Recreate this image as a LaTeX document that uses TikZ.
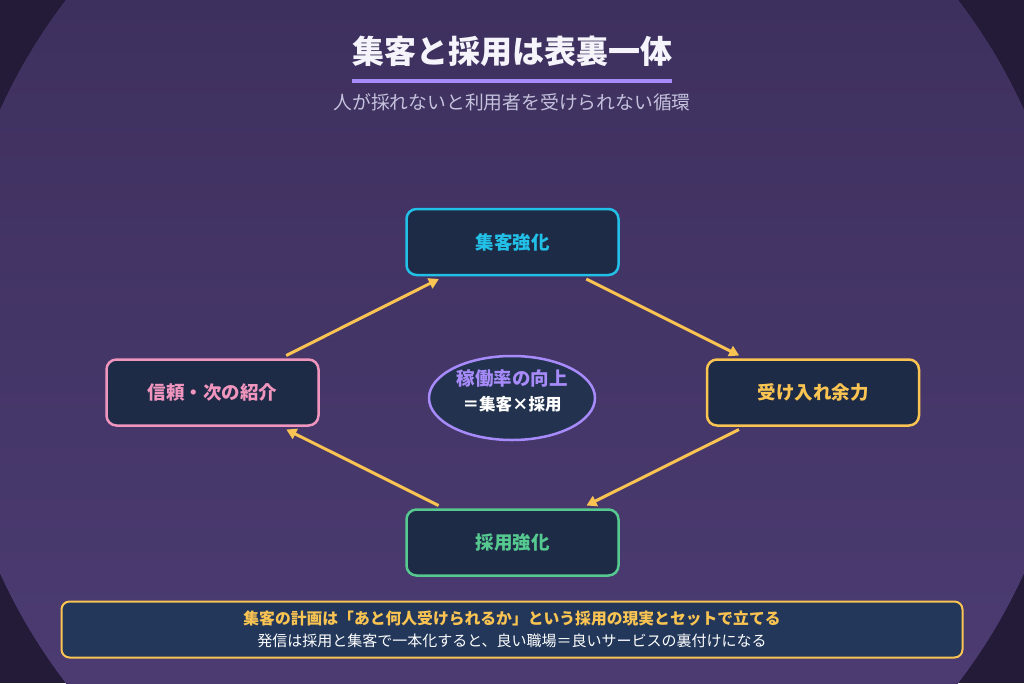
\documentclass[tikz,border=0pt]{standalone}
\usepackage{fontspec}
\setmainfont{Noto Sans CJK JP}
\usetikzlibrary{arrows.meta,shapes.geometric}
\definecolor{bgdark}{HTML}{231B38}
\definecolor{bgtop}{HTML}{3E305E}
\definecolor{bgbot}{HTML}{4B3B71}
\definecolor{nodefill}{HTML}{1E2B47}
\definecolor{ccyan}{HTML}{22BFE6}
\definecolor{cyel}{HTML}{FAC452}
\definecolor{cpink}{HTML}{F095BE}
\definecolor{cgreen}{HTML}{55C98F}
\definecolor{clav}{HTML}{A78BFA}
\definecolor{ellfill}{HTML}{22324F}
\definecolor{panelfill}{HTML}{22375A}
\definecolor{subgray}{HTML}{C4C2DC}
\definecolor{titlewhite}{HTML}{F4F4FA}
\tikzset{
  stepbox/.style={draw=#1, text=#1, line width=2.5pt, rounded corners=10pt, fill=nodefill,
    minimum width=212pt, minimum height=66pt, outer sep=4pt, inner sep=0pt,
    font=\bfseries\fontsize{18.5}{20}\selectfont},
  arr/.style={draw=cyel, line width=3pt, -{Triangle[length=10pt,width=11pt]}},
  panel/.style={draw=cyel, line width=2pt, rounded corners=8pt, fill=panelfill,
    minimum width=901pt, minimum height=56pt, inner sep=0pt}
}
\begin{document}
\begin{tikzpicture}[x=1pt,y=-1pt]
\useasboundingbox (0,0) rectangle (1024,683);
\clip (0,0) rectangle (1024,683);
\fill[bgdark] (0,0) rectangle (1024,683);
\begin{scope}
  \clip (512,341.5) circle (562pt);
  \fill[top color=bgtop, bottom color=bgbot] (0,0) rectangle (1024,683);
\end{scope}

% title
\node[text=titlewhite, font=\bfseries\fontsize{32}{34}\selectfont] (title) at (512,51) {集客と採用は表裏一体};
\fill[clav] (352,79) rectangle (672,83);
\node[text=subgray, font=\fontsize{18.8}{20}\selectfont] (sub) at (512,102) {人が採れないと利用者を受けられない循環};

% nodes
\node[stepbox=ccyan] (T) at (512.5,242) {集客強化};
\node[stepbox=cyel] (R) at (813,392.5) {受け入れ余力};
\node[stepbox=cgreen] (B) at (512.5,542.5) {採用強化};
\node[stepbox=cpink] (L) at (212.5,392.5) {信頼・次の紹介};

% center ellipse
\node[ellipse, draw=clav, line width=2.5pt, fill=ellfill, minimum width=166pt, minimum height=84pt, inner sep=0pt] (C) at (512,398) {};
\node[text=clav, font=\bfseries\fontsize{18.5}{20}\selectfont] (c1) at (512,379) {稼働率の向上};
\node[text=white, font=\bfseries\fontsize{16.5}{18}\selectfont] (c2) at (512,404.5) {＝集客×採用};

% arrows
\draw[arr] (L) -- (T);
\draw[arr] (T) -- (R);
\draw[arr] (R) -- (B);
\draw[arr] (B) -- (L);

% bottom panel
\node[panel] (P) at (512,629.5) {};
\node[text=cyel, font=\bfseries\fontsize{15.8}{17}\selectfont] (p1) at (512,618) {集客の計画は「あと何人受けられるか」という採用の現実とセットで立てる};
\node[text=white, font=\fontsize{15}{16}\selectfont] (p2) at (512,640.5) {発信は採用と集客で一本化すると、良い職場＝良いサービスの裏付けになる};
\end{tikzpicture}
\end{document}
